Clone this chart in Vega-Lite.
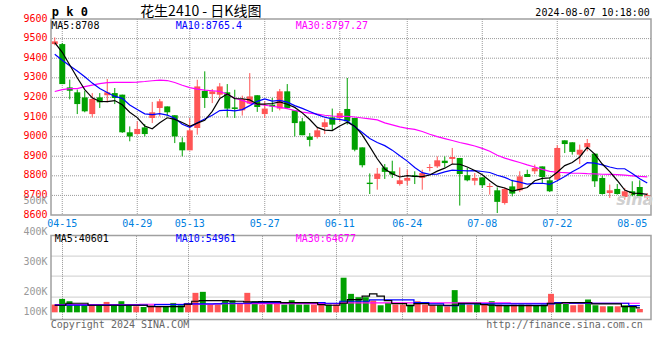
{
"$schema":"https://vega.github.io/schema/vega-lite/v6.json",
"background":"white",
"padding":{"left":22,"top":4,"right":0,"bottom":0},
"spacing":20.6,
"bounds":"flush",
"config":{
 "view":{"stroke":"#a0a0a0","strokeWidth":1.5},
 "font":"DejaVu Sans Mono",
 "axis":{"labelFont":"DejaVu Sans Mono","labelFontSize":10,"ticks":false,"tickSize":0,"domain":false,"title":null,"gridColor":"#999999","gridDash":[1,1],"gridWidth":1,"labelOverlap":false}
},
"datasets":{"k":[
{"d":"04-12","o":9472,"h":9506,"l":9466,"c":9486,"v":58500,"m5":9480,"m10":9420,"m30":9230,"vm5":55000,"vm10":56000,"vm30":58300},
{"d":"04-15","o":9472,"h":9478,"l":9268,"c":9268,"v":86500,"m5":9430,"m10":9390,"m30":9240,"vm5":55000,"vm10":56000,"vm30":58300},
{"d":"04-16","o":9251,"h":9291,"l":9190,"c":9234,"v":75000,"m5":9365,"m10":9362,"m30":9245,"vm5":65000,"vm10":56000,"vm30":58300},
{"d":"04-17","o":9226,"h":9240,"l":9115,"c":9166,"v":58500,"m5":9300,"m10":9335,"m30":9245,"vm5":65000,"vm10":56000,"vm30":58300},
{"d":"04-18","o":9200,"h":9234,"l":9124,"c":9129,"v":58500,"m5":9240,"m10":9305,"m30":9255,"vm5":65000,"vm10":56000,"vm30":58300},
{"d":"04-19","o":9115,"h":9222,"l":9098,"c":9192,"v":58500,"m5":9198,"m10":9273,"m30":9263,"vm5":55000,"vm10":56000,"vm30":58300},
{"d":"04-22","o":9200,"h":9222,"l":9146,"c":9175,"v":58500,"m5":9179,"m10":9245,"m30":9270,"vm5":55000,"vm10":56000,"vm30":58300},
{"d":"04-23","o":9211,"h":9294,"l":9175,"c":9226,"v":71500,"m5":9178,"m10":9225,"m30":9275,"vm5":55000,"vm10":56000,"vm30":58300},
{"d":"04-24","o":9222,"h":9248,"l":9166,"c":9197,"v":55000,"m5":9184,"m10":9205,"m30":9277,"vm5":55000,"vm10":56000,"vm30":58300},
{"d":"04-25","o":9214,"h":9214,"l":9019,"c":9022,"v":75000,"m5":9162,"m10":9195,"m30":9277,"vm5":55000,"vm10":56000,"vm30":58300},
{"d":"04-26","o":9022,"h":9052,"l":8976,"c":9001,"v":55000,"m5":9124,"m10":9161,"m30":9277,"vm5":55000,"vm10":56000,"vm30":58300},
{"d":"04-29","o":9013,"h":9078,"l":9010,"c":9039,"v":50000,"m5":9097,"m10":9138,"m30":9278,"vm5":55000,"vm10":56000,"vm30":58300},
{"d":"04-30","o":9047,"h":9064,"l":9001,"c":9013,"v":46500,"m5":9054,"m10":9116,"m30":9281,"vm5":55000,"vm10":56000,"vm30":60000},
{"d":"05-06","o":9095,"h":9177,"l":9069,"c":9124,"v":55000,"m5":9040,"m10":9112,"m30":9285,"vm5":48300,"vm10":50000,"vm30":60000},
{"d":"05-07","o":9146,"h":9192,"l":9103,"c":9180,"v":46500,"m5":9071,"m10":9117,"m30":9288,"vm5":48300,"vm10":58300,"vm30":60000},
{"d":"05-08","o":9154,"h":9154,"l":9103,"c":9124,"v":50000,"m5":9096,"m10":9110,"m30":9286,"vm5":48300,"vm10":58300,"vm30":60000},
{"d":"05-09","o":9109,"h":9109,"l":8967,"c":9001,"v":66500,"m5":9088,"m10":9093,"m30":9276,"vm5":48300,"vm10":58300,"vm30":60000},
{"d":"05-10","o":8971,"h":8996,"l":8899,"c":8930,"v":55000,"m5":9072,"m10":9063,"m30":9262,"vm5":48300,"vm10":58300,"vm30":60000},
{"d":"05-13","o":8930,"h":9095,"l":8930,"c":9032,"v":66500,"m5":9053,"m10":9047,"m30":9250,"vm5":60000,"vm10":61700,"vm30":60000},
{"d":"05-14","o":9044,"h":9290,"l":9010,"c":9256,"v":116500,"m5":9069,"m10":9070,"m30":9242,"vm5":75000,"vm10":61700,"vm30":60000},
{"d":"05-15","o":9233,"h":9333,"l":9146,"c":9197,"v":121500,"m5":9083,"m10":9090,"m30":9237,"vm5":78300,"vm10":61700,"vm30":60000},
{"d":"05-16","o":9217,"h":9243,"l":9171,"c":9231,"v":58500,"m5":9129,"m10":9109,"m30":9234,"vm5":78300,"vm10":61700,"vm30":60000},
{"d":"05-17","o":9214,"h":9273,"l":9197,"c":9256,"v":58500,"m5":9194,"m10":9133,"m30":9231,"vm5":78300,"vm10":61700,"vm30":63300},
{"d":"05-20","o":9226,"h":9268,"l":9098,"c":9143,"v":80000,"m5":9217,"m10":9135,"m30":9215,"vm5":78300,"vm10":65000,"vm30":63300},
{"d":"05-21","o":9149,"h":9239,"l":9095,"c":9141,"v":80000,"m5":9194,"m10":9131,"m30":9197,"vm5":75000,"vm10":65000,"vm30":63300},
{"d":"05-22","o":9134,"h":9209,"l":9107,"c":9192,"v":66500,"m5":9193,"m10":9138,"m30":9185,"vm5":75000,"vm10":65000,"vm30":63300},
{"d":"05-23","o":9168,"h":9324,"l":9166,"c":9205,"v":116500,"m5":9187,"m10":9158,"m30":9172,"vm5":71700,"vm10":65000,"vm30":63300},
{"d":"05-24","o":9211,"h":9211,"l":9126,"c":9151,"v":75000,"m5":9166,"m10":9180,"m30":9165,"vm5":71700,"vm10":68300,"vm30":63300},
{"d":"05-27","o":9115,"h":9180,"l":9095,"c":9143,"v":58500,"m5":9166,"m10":9192,"m30":9160,"vm5":73300,"vm10":68300,"vm30":63300},
{"d":"05-28","o":9163,"h":9197,"l":9126,"c":9154,"v":75000,"m5":9169,"m10":9181,"m30":9155,"vm5":73300,"vm10":68300,"vm30":63300},
{"d":"05-29","o":9143,"h":9243,"l":9134,"c":9231,"v":75000,"m5":9177,"m10":9185,"m30":9149,"vm5":73300,"vm10":68300,"vm30":63300},
{"d":"05-30","o":9231,"h":9268,"l":9143,"c":9146,"v":58500,"m5":9165,"m10":9176,"m30":9143,"vm5":68300,"vm10":68300,"vm30":63300},
{"d":"05-31","o":9134,"h":9134,"l":9001,"c":9069,"v":80000,"m5":9149,"m10":9158,"m30":9133,"vm5":68300,"vm10":68300,"vm30":63300},
{"d":"06-03","o":9078,"h":9095,"l":9007,"c":9007,"v":58500,"m5":9121,"m10":9144,"m30":9125,"vm5":68300,"vm10":68300,"vm30":63300},
{"d":"06-04","o":9000,"h":9018,"l":8950,"c":8983,"v":58500,"m5":9087,"m10":9128,"m30":9120,"vm5":68300,"vm10":68300,"vm30":63300},
{"d":"06-05","o":8998,"h":9044,"l":8990,"c":9032,"v":58500,"m5":9047,"m10":9112,"m30":9115,"vm5":68300,"vm10":68300,"vm30":63300},
{"d":"06-06","o":9049,"h":9092,"l":9013,"c":9073,"v":58500,"m5":9033,"m10":9099,"m30":9109,"vm5":58300,"vm10":68300,"vm30":63300},
{"d":"06-07","o":9098,"h":9143,"l":9030,"c":9061,"v":58500,"m5":9031,"m10":9090,"m30":9105,"vm5":55000,"vm10":65000,"vm30":63300},
{"d":"06-11","o":9095,"h":9129,"l":9078,"c":9120,"v":58500,"m5":9054,"m10":9088,"m30":9103,"vm5":55000,"vm10":65000,"vm30":63300},
{"d":"06-12","o":9141,"h":9299,"l":9061,"c":9078,"v":191500,"m5":9073,"m10":9080,"m30":9103,"vm5":65000,"vm10":75000,"vm30":66700},
{"d":"06-13","o":9095,"h":9095,"l":8925,"c":8933,"v":111500,"m5":9053,"m10":9050,"m30":9100,"vm5":83300,"vm10":75000,"vm30":66700},
{"d":"06-14","o":8945,"h":8945,"l":8843,"c":8854,"v":95000,"m5":9009,"m10":9021,"m30":9095,"vm5":83300,"vm10":75000,"vm30":66700},
{"d":"06-17","o":8765,"h":8812,"l":8707,"c":8758,"v":95000,"m5":8949,"m10":8990,"m30":9090,"vm5":100000,"vm10":75000,"vm30":66700},
{"d":"06-18","o":8784,"h":8840,"l":8729,"c":8811,"v":78500,"m5":8887,"m10":8970,"m30":9085,"vm5":111700,"vm10":81700,"vm30":66700},
{"d":"06-19","o":8843,"h":8860,"l":8784,"c":8820,"v":55000,"m5":8835,"m10":8954,"m30":9070,"vm5":100000,"vm10":81700,"vm30":66700},
{"d":"06-20","o":8823,"h":8877,"l":8789,"c":8806,"v":66500,"m5":8810,"m10":8931,"m30":9060,"vm5":78300,"vm10":81700,"vm30":66700},
{"d":"06-21","o":8758,"h":8843,"l":8750,"c":8777,"v":58500,"m5":8794,"m10":8902,"m30":9050,"vm5":63300,"vm10":81700,"vm30":66700},
{"d":"06-24","o":8775,"h":8831,"l":8752,"c":8789,"v":58500,"m5":8801,"m10":8875,"m30":9042,"vm5":63300,"vm10":81700,"vm30":66700},
{"d":"06-25","o":8803,"h":8823,"l":8758,"c":8794,"v":58500,"m5":8797,"m10":8842,"m30":9037,"vm5":53300,"vm10":81700,"vm30":66700},
{"d":"06-26","o":8789,"h":8831,"l":8729,"c":8814,"v":75000,"m5":8796,"m10":8816,"m30":9026,"vm5":63300,"vm10":68300,"vm30":66700},
{"d":"06-27","o":8840,"h":8860,"l":8823,"c":8845,"v":58500,"m5":8804,"m10":8807,"m30":9012,"vm5":63300,"vm10":68300,"vm30":66700},
{"d":"06-28","o":8848,"h":8899,"l":8840,"c":8879,"v":55000,"m5":8824,"m10":8809,"m30":9000,"vm5":55000,"vm10":61700,"vm30":66700},
{"d":"07-01","o":8877,"h":8899,"l":8843,"c":8865,"v":55000,"m5":8839,"m10":8820,"m30":8990,"vm5":55000,"vm10":61700,"vm30":66700},
{"d":"07-02","o":8886,"h":8942,"l":8860,"c":8896,"v":50000,"m5":8860,"m10":8829,"m30":8980,"vm5":55000,"vm10":53300,"vm30":66700},
{"d":"07-03","o":8891,"h":8891,"l":8648,"c":8809,"v":130000,"m5":8859,"m10":8827,"m30":8970,"vm5":55000,"vm10":53300,"vm30":66700},
{"d":"07-04","o":8803,"h":8840,"l":8772,"c":8777,"v":66500,"m5":8845,"m10":8825,"m30":8962,"vm5":65000,"vm10":61700,"vm30":66700},
{"d":"07-05","o":8775,"h":8814,"l":8752,"c":8789,"v":58500,"m5":8827,"m10":8826,"m30":8952,"vm5":65000,"vm10":61700,"vm30":66700},
{"d":"07-08","o":8792,"h":8792,"l":8738,"c":8752,"v":61500,"m5":8805,"m10":8822,"m30":8940,"vm5":65000,"vm10":61700,"vm30":66700},
{"d":"07-09","o":8743,"h":8763,"l":8704,"c":8748,"v":58500,"m5":8775,"m10":8817,"m30":8925,"vm5":58300,"vm10":61700,"vm30":66700},
{"d":"07-10","o":8726,"h":8741,"l":8610,"c":8667,"v":75000,"m5":8747,"m10":8803,"m30":8905,"vm5":55000,"vm10":61700,"vm30":66700},
{"d":"07-11","o":8661,"h":8741,"l":8653,"c":8733,"v":58500,"m5":8738,"m10":8792,"m30":8890,"vm5":53300,"vm10":61700,"vm30":66700},
{"d":"07-12","o":8746,"h":8780,"l":8695,"c":8709,"v":55000,"m5":8722,"m10":8775,"m30":8879,"vm5":53300,"vm10":61700,"vm30":66700},
{"d":"07-15","o":8726,"h":8823,"l":8717,"c":8797,"v":58500,"m5":8731,"m10":8768,"m30":8868,"vm5":53300,"vm10":61700,"vm30":65000},
{"d":"07-16","o":8809,"h":8831,"l":8794,"c":8794,"v":58500,"m5":8740,"m10":8758,"m30":8856,"vm5":53300,"vm10":61700,"vm30":65000},
{"d":"07-17","o":8823,"h":8857,"l":8809,"c":8840,"v":58500,"m5":8775,"m10":8761,"m30":8845,"vm5":53300,"vm10":61700,"vm30":65000},
{"d":"07-18","o":8848,"h":8848,"l":8763,"c":8794,"v":55000,"m5":8787,"m10":8762,"m30":8833,"vm5":53300,"vm10":61700,"vm30":65000},
{"d":"07-19","o":8777,"h":8792,"l":8717,"c":8721,"v":58500,"m5":8789,"m10":8756,"m30":8823,"vm5":53300,"vm10":61700,"vm30":65000},
{"d":"07-22","o":8780,"h":8956,"l":8777,"c":8942,"v":111500,"m5":8818,"m10":8775,"m30":8818,"vm5":65000,"vm10":61700,"vm30":65000},
{"d":"07-23","o":8981,"h":8981,"l":8916,"c":8962,"v":66500,"m5":8852,"m10":8796,"m30":8816,"vm5":65000,"vm10":68300,"vm30":65000},
{"d":"07-24","o":8971,"h":8971,"l":8908,"c":8922,"v":61500,"m5":8868,"m10":8821,"m30":8814,"vm5":68300,"vm10":68300,"vm30":65000},
{"d":"07-25","o":8908,"h":8959,"l":8860,"c":8933,"v":55000,"m5":8896,"m10":8841,"m30":8813,"vm5":68300,"vm10":65000,"vm30":65000},
{"d":"07-26","o":8945,"h":8988,"l":8925,"c":8967,"v":58500,"m5":8945,"m10":8867,"m30":8811,"vm5":68300,"vm10":65000,"vm30":65000},
{"d":"07-29","o":8913,"h":8913,"l":8743,"c":8772,"v":83500,"m5":8911,"m10":8865,"m30":8810,"vm5":68300,"vm10":65000,"vm30":65000},
{"d":"07-30","o":8789,"h":8801,"l":8704,"c":8707,"v":55000,"m5":8860,"m10":8856,"m30":8808,"vm5":61700,"vm10":65000,"vm30":65000},
{"d":"07-31","o":8712,"h":8755,"l":8687,"c":8726,"v":50000,"m5":8821,"m10":8845,"m30":8807,"vm5":61700,"vm10":65000,"vm30":65000},
{"d":"08-01","o":8733,"h":8758,"l":8704,"c":8707,"v":50000,"m5":8776,"m10":8836,"m30":8806,"vm5":61700,"vm10":65000,"vm30":65000},
{"d":"08-02","o":8692,"h":8738,"l":8678,"c":8721,"v":50000,"m5":8727,"m10":8836,"m30":8803,"vm5":61700,"vm10":65000,"vm30":65000},
{"d":"08-05","o":8721,"h":8772,"l":8695,"c":8701,"v":55000,"m5":8712,"m10":8812,"m30":8800,"vm5":48300,"vm10":65000,"vm30":65000},
{"d":"08-06","o":8743,"h":8777,"l":8687,"c":8695,"v":50000,"m5":8710,"m10":8785,"m30":8797,"vm5":48300,"vm10":53300,"vm30":65000},
{"d":"08-07","o":8687,"h":8712,"l":8678,"c":8701,"v":36500,"m5":8705,"m10":8763,"m30":8795,"vm5":41700,"vm10":53300,"vm30":65000}
]},
"vconcat":[
{
 "width":600,"height":196,
 "data":{"name":"k"},
 "layer":[
  {"layer":[
   {"data":{"values":[{"g":8700},{"g":8800},{"g":8900},{"g":9000},{"g":9100},{"g":9200},{"g":9300},{"g":9400},{"g":9500}]},
    "mark":{"type":"rule","color":"#999999","strokeDash":[1,1],"strokeWidth":1},
    "encoding":{"y":{"field":"g","type":"quantitative"}}},
   {"transform":[{"filter":{"field":"d","oneOf":["04-15","04-29","05-13","05-27","06-11","06-24","07-08","07-22"]}}],
    "mark":{"type":"rule","color":"#999999","strokeDash":[1,1],"strokeWidth":1},
    "encoding":{"x":{"field":"d","type":"ordinal","sort":null}}},
   {"mark":{"type":"bar","width":{"band":0.8}},
    "encoding":{
     "x":{"field":"d","type":"ordinal","sort":null,"scale":{"type":"band","paddingInner":0,"paddingOuter":0,"domain":["04-12","04-15","04-16","04-17","04-18","04-19","04-22","04-23","04-24","04-25","04-26","04-29","04-30","05-06","05-07","05-08","05-09","05-10","05-13","05-14","05-15","05-16","05-17","05-20","05-21","05-22","05-23","05-24","05-27","05-28","05-29","05-30","05-31","06-03","06-04","06-05","06-06","06-07","06-11","06-12","06-13","06-14","06-17","06-18","06-19","06-20","06-21","06-24","06-25","06-26","06-27","06-28","07-01","07-02","07-03","07-04","07-05","07-08","07-09","07-10","07-11","07-12","07-15","07-16","07-17","07-18","07-19","07-22","07-23","07-24","07-25","07-26","07-29","07-30","07-31","08-01","08-02","08-05","08-06","08-07"]},
       "axis":{"labels":false,"grid":false}},
     "y":{"field":"o","type":"quantitative","scale":{"domain":[8600,9600],"nice":false,"zero":false},
      "axis":{"labels":false,"grid":false}},
     "y2":{"field":"c"},
     "color":{"condition":{"test":"datum.c >= datum.o","value":"#ff5555"},"value":"#00a000"}}},
   {"mark":{"type":"rule","strokeWidth":1},
    "encoding":{"x":{"field":"d","type":"ordinal","sort":null},"y":{"field":"l","type":"quantitative"},"y2":{"field":"h"},
     "color":{"condition":{"test":"datum.c >= datum.o","value":"#ff5555"},"value":"#00a000"}}},
   {"mark":{"type":"line","color":"#ff00ff","strokeWidth":1.2},"encoding":{"x":{"field":"d","type":"ordinal","sort":null},"y":{"field":"m30","type":"quantitative"}}},
   {"mark":{"type":"line","color":"#0000ff","strokeWidth":1.2},"encoding":{"x":{"field":"d","type":"ordinal","sort":null},"y":{"field":"m10","type":"quantitative"}}},
   {"mark":{"type":"line","color":"#000000","strokeWidth":1.2},"encoding":{"x":{"field":"d","type":"ordinal","sort":null},"y":{"field":"m5","type":"quantitative"}}}
  ]},
  {"mark":{"type":"point","opacity":0},
   "encoding":{
    "x":{"field":"d","type":"ordinal","sort":null,"scale":{"type":"band","paddingInner":0,"paddingOuter":0},
      "axis":{"orient":"bottom","values":["04-15","04-29","05-13","05-27","06-11","06-24","07-08","07-22","08-05"],"labelAngle":0,"labelColor":"#0080e0","labelPadding":3,"labelBaseline":"top","labelOverlap":false,"grid":false}},
    "y":{"datum":9000,"type":"quantitative","scale":{"domain":[8600,9600],"nice":false,"zero":false},
      "axis":{"orient":"left","values":[8600,8700,8800,8900,9000,9100,9200,9300,9400,9500,9600],"format":"d","labelOverlap":false,"labelColor":"#ff0000","labelPadding":4,"labelOffset":-1,"grid":false}}}},
  {"data":{"values":[{}]},
   "encoding":{"y":{"datum":9600,"type":"quantitative","scale":{"domain":[8600,9600],"nice":false,"zero":false},"axis":null}},
   "layer":[
    {"mark":{"type":"text","text":"p k 0","align":"left","baseline":"middle","font":"DejaVu Sans Mono","fontWeight":"bold","fontSize":12,"dx":-299.25,"dy":-7,"color":"#000000"}},
    {"mark":{"type":"text","text":"花生2410 - 日K线图","align":"center","baseline":"middle","font":"Noto Sans CJK SC","fontSize":14,"dx":-150.25,"dy":-7,"color":"#000000"}},
    {"mark":{"type":"text","text":"2024-08-07 10:18:00","align":"right","baseline":"middle","fontSize":10,"dx":298.75,"dy":-6,"color":"#000000"}},
    {"mark":{"type":"text","text":"MA5:8708","align":"left","baseline":"middle","fontSize":10,"dx":-299.75,"dy":7,"color":"#000000"}},
    {"mark":{"type":"text","text":"MA10:8765.4","align":"left","baseline":"middle","fontSize":10,"dx":-175.25,"dy":7,"color":"#0000ff"}},
    {"mark":{"type":"text","text":"MA30:8797.27","align":"left","baseline":"middle","fontSize":10,"dx":-55.25,"dy":7,"color":"#ff00ff"}},
    {"mark":{"type":"text","text":"sina","align":"center","baseline":"middle","font":"DejaVu Sans","fontStyle":"italic","fontWeight":"bold","fontSize":16,"dx":283.75,"dy":181,"color":"#d0d0d0"}}
   ]}
 ],
 "resolve":{"scale":{"x":"independent","y":"independent"},"axis":{"x":"independent","y":"independent"}}
},
{
 "width":600,"height":84,
 "data":{"name":"k"},
 "encoding":{"x":{"field":"d","type":"ordinal","sort":null,"scale":{"type":"band","paddingInner":0,"paddingOuter":0},
   "axis":{"values":["04-15","04-29","05-13","05-27","06-11","06-24","07-08","07-22","08-05"],"labels":false,"grid":true,"gridOpacity":{"condition":{"test":"datum.value === '08-05'","value":0},"value":1}}}},
 "layer":[
  {"layer":[
   {"mark":{"type":"bar","width":{"band":0.8}},
    "encoding":{"y":{"field":"v","type":"quantitative","scale":{"domain":[-16000,400000],"nice":false,"zero":false},
      "axis":{"values":[100000,200000,300000],"labels":false,"grid":true}},
      "y2":{"datum":20000},
      "color":{"condition":{"test":"datum.c >= datum.o","value":"#ff5555"},"value":"#00a000"}}},
   {"mark":{"type":"line","color":"#ff00ff","strokeWidth":1.2,"interpolate":"step"},"encoding":{"y":{"field":"vm30","type":"quantitative"}}},
   {"mark":{"type":"line","color":"#0000ff","strokeWidth":1.2,"interpolate":"step"},"encoding":{"y":{"field":"vm10","type":"quantitative"}}},
   {"mark":{"type":"line","color":"#000000","strokeWidth":1.2,"interpolate":"step"},"encoding":{"y":{"field":"vm5","type":"quantitative"}}},
   {"data":{"values":[{}]},"mark":{"type":"text","text":"MA5:40601","align":"left","baseline":"middle","fontSize":10,"dx":0,"dy":3.5,"color":"#000000"},
    "encoding":{"x":{"datum":"04-12"},"y":{"datum":400000}}},
   {"data":{"values":[{}]},"mark":{"type":"text","text":"MA10:54961","align":"left","baseline":"middle","fontSize":10,"dx":121,"dy":3.5,"color":"#0000ff"},
    "encoding":{"x":{"datum":"04-12"},"y":{"datum":400000}}},
   {"data":{"values":[{}]},"mark":{"type":"text","text":"MA30:64677","align":"left","baseline":"middle","fontSize":10,"dx":241,"dy":3.5,"color":"#ff00ff"},
    "encoding":{"x":{"datum":"04-12"},"y":{"datum":400000}}},
   {"data":{"values":[{}]},"mark":{"type":"text","text":"Copyright 2024 SINA.COM","align":"left","baseline":"middle","fontSize":10,"dx":-4,"dy":5,"color":"#666666"},
    "encoding":{"x":{"datum":"04-12"},"y":{"datum":-16000}}},
   {"data":{"values":[{}]},"mark":{"type":"text","text":"http://finance.sina.com.cn","align":"right","baseline":"middle","fontSize":10,"dx":3,"dy":5,"color":"#666666"},
    "encoding":{"x":{"datum":"08-07"},"y":{"datum":-16000}}}
  ]},
  {"data":{"values":[{}]},"mark":{"type":"point","opacity":0},
   "encoding":{"y":{"datum":300000,"type":"quantitative","scale":{"domain":[100000,200000,300000,400000,500000],"range":[76,56,26,-4,-35],"nice":false,"zero":false},
     "axis":{"orient":"left","values":[100000,200000,300000,400000,500000],"labelExpr":"(datum.value/1000) + 'K'","labelOverlap":false,"labelColor":"#999999","labelPadding":4,"grid":false}}}}
 ],
 "resolve":{"scale":{"y":"independent"}}
}
]
}
